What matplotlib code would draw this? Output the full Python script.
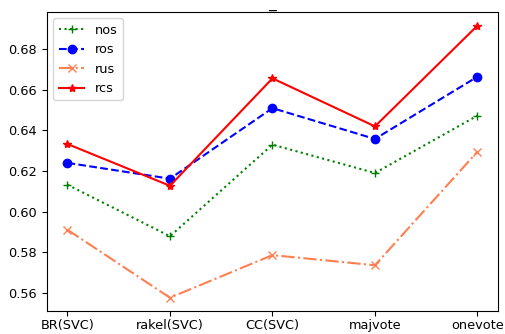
import matplotlib
matplotlib.use("Agg")
import matplotlib.pyplot as plt

methods = ['BR(SVC)', 'rakel(SVC)', 'CC(SVC)', 'majvote', 'onevote']
nos = [0.6132, 0.5878, 0.6330, 0.6190, 0.6473]
ros = [0.6240, 0.6162, 0.6510, 0.6358, 0.6665]
rus = [0.5910, 0.5575, 0.5785, 0.5735, 0.6295]
rcs = [0.6333, 0.6127, 0.6657, 0.6420, 0.6917]

plt.rcParams['font.size'] = 9.3

fig, ax = plt.subplots(figsize=(5.05, 3.34), dpi=100)
ax.plot(methods, nos, 'g:+', label='nos')
ax.plot(methods, ros, 'b--o', label='ros')
ax.plot(methods, rus, '-.x', color='coral', label='rus')
ax.plot(methods, rcs, 'r-*', label='rcs')
ax.set_title('_', pad=4)
ax.legend(loc='upper left')
ax.tick_params(axis='x', pad=2)

fig.subplots_adjust(left=0.093, right=0.986, top=0.964, bottom=0.068)
fig.savefig('out.png')
